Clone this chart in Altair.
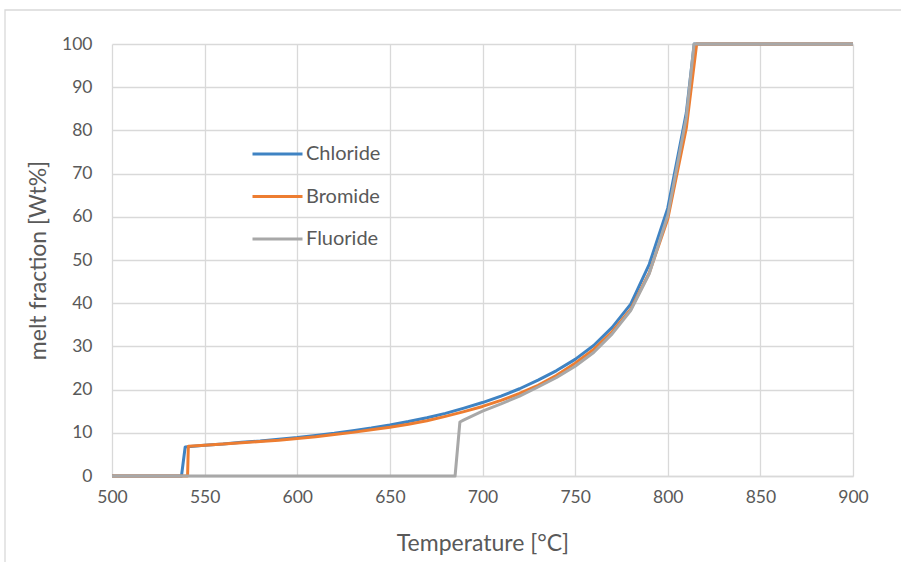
import altair as alt
import pandas as pd

# ---- data ----
cl_t = [500, 537.5, 539.5, 550, 560, 570, 580, 590, 600, 610, 620, 630, 640, 650, 660, 670,
        680, 690, 700, 710, 720, 730, 740, 750, 760, 770, 780, 790, 800, 810, 814.3, 900]
cl_v = [0, 0, 6.7, 7.1, 7.4, 7.8, 8.1, 8.5, 8.9, 9.4, 9.9, 10.5, 11.1, 11.8, 12.6, 13.5,
        14.5, 15.7, 17.0, 18.5, 20.2, 22.2, 24.4, 27.0, 30.2, 34.4, 39.8, 49.0, 62.0, 84.0, 100, 100]

br_t = [500, 540.8, 541.2, 550, 560, 570, 580, 590, 600, 610, 620, 630, 640, 650, 660, 670,
        680, 690, 700, 710, 720, 730, 740, 750, 760, 770, 780, 790, 800, 810, 815.6, 900]
br_v = [0, 0, 6.9, 7.1, 7.4, 7.7, 8.0, 8.3, 8.7, 9.1, 9.6, 10.1, 10.7, 11.3, 12.0, 12.8,
        13.8, 14.9, 16.1, 17.5, 19.1, 21.0, 23.3, 26.1, 29.3, 33.4, 38.6, 47.0, 59.5, 80.5, 100, 100]

fl_t = [500, 685.2, 687.8, 690, 700, 710, 720, 730, 740, 750, 760, 770, 780, 790, 800, 810, 814.2, 900]
fl_v = [0, 0, 12.5, 13.0, 15.0, 16.7, 18.5, 20.6, 22.8, 25.4, 28.6, 32.9, 38.3, 46.8, 60.3, 83.0, 100, 100]

series = ["Chloride", "Bromide", "Fluoride"]
colors = ["#3F83C3", "#ED7D31", "#A8A8A8"]

rows = []
for name, ts, vs in zip(series, [cl_t, br_t, fl_t], [cl_v, br_v, fl_v]):
    for i, (t, v) in enumerate(zip(ts, vs)):
        rows.append({"series": name, "T": t, "melt": v, "idx": i})
df = pd.DataFrame(rows)

FONT = "Lato"
TXT = "#595959"
GRID = "#D9D9D9"

lines = alt.Chart(df).mark_line(strokeWidth=3, strokeJoin="round").encode(
    x=alt.X("T:Q", scale=alt.Scale(domain=[500, 900], nice=False, zero=False),
            axis=alt.Axis(title="Temperature [°C]", values=list(range(500, 901, 50)),
                          ticks=False, labelPadding=12, labelFontSize=17.5,
                          labelFlush=False, labelOverlap=False,
                          labelColor=TXT, labelFont=FONT, grid=True, gridColor=GRID,
                          gridWidth=1.3, domainColor=GRID, domainWidth=1.3,
                          titleFont=FONT, titleFontSize=23, titleFontWeight="normal",
                          titleColor=TXT, titleY=67, titleBaseline="middle")),
    y=alt.Y("melt:Q", scale=alt.Scale(domain=[0, 100], nice=False),
            axis=alt.Axis(title="melt fraction [Wt%]", values=list(range(0, 101, 10)),
                          ticks=False, labelPadding=20, labelFontSize=17.5,
                          labelFlush=False, labelOverlap=False,
                          labelColor=TXT, labelFont=FONT, grid=True, gridColor=GRID,
                          gridWidth=1.3, domain=False,
                          titleFont=FONT, titleFontSize=23, titleFontWeight="normal",
                          titleColor=TXT, titleX=-74, titleY=216, titleBaseline="middle",
                          titleAlign="center", titleAngle=270)),
    color=alt.Color("series:N",
                    scale=alt.Scale(domain=series, range=colors),
                    legend=alt.Legend(title=None, orient="none", legendX=139, legendY=100,
                                      symbolType="stroke", symbolSize=2500,
                                      symbolStrokeWidth=3, clipHeight=20, rowPadding=22.5,
                                      labelOffset=2, labelFont=FONT, labelFontSize=20,
                                      labelColor=TXT, padding=0)),
    order="idx:Q",
    detail="series:N",
)

frame = alt.Chart(pd.DataFrame({"a": [0]})).mark_rect(
    fill=None, stroke=GRID, strokeWidth=1.3
).encode(
    x=alt.value(-107), x2=alt.value(810), y=alt.value(-34), y2=alt.value(540)
)

chart = alt.layer(frame, lines).properties(
    width=741, height=432,
    autosize=alt.AutoSizeParams(type="none"),
    padding={"left": 112, "top": 44, "right": 48, "bottom": 86},
    background="white",
).configure_view(stroke=None)

chart.save("out.html", embed_options={"renderer": "svg", "actions": False})
